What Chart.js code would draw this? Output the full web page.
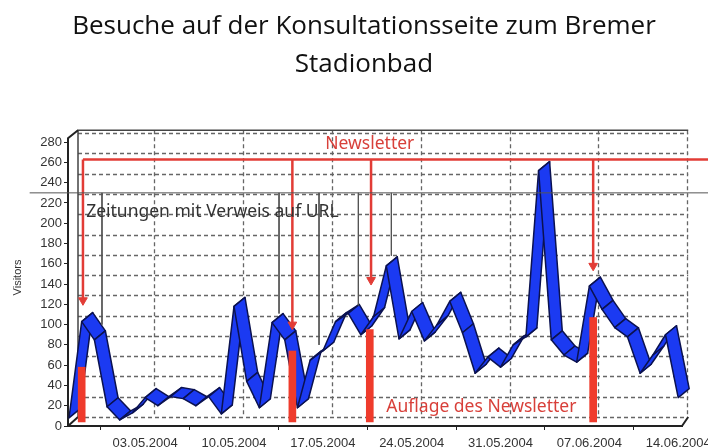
<!DOCTYPE html>
<html>
<head>
<meta charset="utf-8">
<script src="https://cdn.jsdelivr.net/npm/chart.js@4.4.1/dist/chart.umd.min.js"></script>
<style>
  html, body { margin: 0; padding: 0; background: #fff; }
  #wrap { position: absolute; left: 0; top: 0; width: 708px; height: 448px; }
  #title {
    position: absolute; left: 10px; top: 5px; width: 708px; text-align: center;
    font-family: "Open Sans", sans-serif; font-size: 26px; line-height: 38px; color: #111;
  }
</style>
</head>
<body>
<div id="wrap"><canvas id="chart"></canvas></div>
<div id="title">Besuche auf der Konsultationsseite zum Bremer<br>Stadionbad</div>
<script>
// daily visitors, 27.04.2004 .. 14.06.2004 (one value per day)
const visitors = [8, 103, 85, 19, 6, 13, 28, 20, 29, 27,
                  20, 29, 12, 118, 44, 18, 102, 85, 18, 65,
                  74, 103, 111, 90, 108, 158, 86, 113, 84, 100,
                  123, 92, 52, 68, 58, 80, 88, 252, 85, 70,
                  63, 138, 115, 97, 88, 52, 70, 90, 28];

const tickDays = [6, 13, 20, 27, 34, 41, 48];
const tickLabels = ["03.05.2004", "10.05.2004", "17.05.2004", "24.05.2004",
                    "31.05.2004", "07.06.2004", "14.06.2004"];
const yTicks = [0, 20, 40, 60, 80, 100, 120, 140, 160, 180, 200, 220, 240, 260, 280];

// newsletter: red arrows from a red line at 263
const newsDay = [1.1, 17.6, 23.8, 41.3];
const newsTip = [124, 100, 144, 158];
const newsLevel = 263;
const newsSpan = [1.1, 50.6];

// Auflage des Newsletter: red bars
const issueDay = [1.0, 17.6, 23.7, 41.3];
const issueTop = [58, 74, 95, 107];
const issueBase = 4;

// Zeitungen mit Verweis auf URL: thin black lines
const urlDay = [2.6, 16.55, 19.7, 22.8, 25.4];
const urlEnd = [100, 111, 80, 119, 168];
const urlLevel = 230;
const urlSpan = [-3.1, 50.6];

const notes = [
  { text: "Newsletter", day: 23.7, val: 278, color: "#d8403a", align: "center" },
  { text: "Zeitungen mit Verweis auf URL", day: 1.35, val: 211, color: "#333", align: "left" },
  { text: "Auflage des Newsletter", day: 25.0, val: 19, color: "#d8403a", align: "left" }
];

const RED = "#e23c36";
const DX = 11, DY = -9;

const backWall = {
  id: "backWall",
  beforeDatasetsDraw(chart) {
    const { ctx, scales: { x, y } } = chart;
    const left = x.getPixelForValue(0) + 9;
    const right = x.getPixelForValue(48) + 10;
    const top = y.getPixelForValue(280) - 12;
    const floor = y.getPixelForValue(0) - 9;
    ctx.save();
    ctx.strokeStyle = "#666";
    ctx.lineWidth = 1.3;
    ctx.setLineDash([4, 3]);
    yTicks.forEach(v => {
      const py = Math.round(y.getPixelForValue(v) - 9) + 0.5;
      ctx.beginPath(); ctx.moveTo(left, py); ctx.lineTo(right, py); ctx.stroke();
    });
    tickDays.forEach(d => {
      const px = Math.round(x.getPixelForValue(d) + 9) + 0.5;
      ctx.beginPath(); ctx.moveTo(px, top); ctx.lineTo(px, floor); ctx.stroke();
    });
    ctx.setLineDash([]);
    ctx.strokeStyle = "#444";
    ctx.lineWidth = 1.5;
    ctx.beginPath();
    ctx.moveTo(left, floor); ctx.lineTo(left, top); ctx.lineTo(right, top);
    ctx.stroke();
    // front axis with 3D corners
    const fl = x.getPixelForValue(0) - 1, fb = y.getPixelForValue(0);
    const ft = y.getPixelForValue(280) - 4;
    ctx.strokeStyle = "#222";
    ctx.lineWidth = 2;
    ctx.beginPath();
    ctx.moveTo(fl, fb); ctx.lineTo(fl, ft); ctx.lineTo(left, top);
    ctx.moveTo(fl, fb); ctx.lineTo(left, floor);
    const fr = x.getPixelForValue(48.3);
    ctx.moveTo(fr, fb); ctx.lineTo(right, floor);
    ctx.stroke();
    ctx.restore();

    // ribbon of the visitors series
    const pts = chart.getDatasetMeta(0).data;
    ctx.save();
    ctx.fillStyle = "#1b3af2";
    ctx.strokeStyle = "#0b1250";
    ctx.lineWidth = 1.5;
    ctx.lineJoin = "round";
    for (let i = 0; i < pts.length - 1; i++) {
      const a = pts[i], b = pts[i + 1];
      ctx.beginPath();
      ctx.moveTo(a.x, a.y);
      ctx.lineTo(b.x, b.y);
      ctx.lineTo(b.x + DX, b.y + DY);
      ctx.lineTo(a.x + DX, a.y + DY);
      ctx.closePath();
      ctx.fill();
      ctx.stroke();
    }
    ctx.restore();
  },
  afterDatasetsDraw(chart) {
    const { ctx, scales: { x, y } } = chart;
    ctx.save();
    ctx.font = '17.5px "Noto Sans", sans-serif';
    ctx.textBaseline = "middle";
    notes.forEach(n => {
      ctx.fillStyle = n.color;
      ctx.textAlign = n.align;
      ctx.fillText(n.text, x.getPixelForValue(n.day), y.getPixelForValue(n.val));
    });
    ctx.restore();
  }
};

const datasets = [];
datasets.push({
  type: "line", label: "Visitors",
  data: visitors.map((v, i) => ({ x: i, y: v })),
  showLine: false, pointRadius: 0, borderWidth: 0
});
datasets.push({
  type: "bar", label: "Auflage",
  data: issueDay.map((d, i) => ({ x: d, y: [issueBase, issueTop[i]] })),
  backgroundColor: "#ef3b2c", barThickness: 7, borderWidth: 0
});
datasets.push({
  type: "line", label: "URL",
  data: [{ x: urlSpan[0], y: urlLevel }, { x: urlSpan[1], y: urlLevel }],
  borderColor: "#555", borderWidth: 1, pointRadius: 0, clip: false
});
urlDay.forEach((d, i) => datasets.push({
  type: "line",
  data: [{ x: d, y: urlLevel }, { x: d, y: urlEnd[i] }],
  borderColor: "#555", borderWidth: 1, pointRadius: 0, clip: false
}));
datasets.push({
  type: "line", label: "Newsletter",
  data: [{ x: newsSpan[0], y: newsLevel }, { x: newsSpan[1], y: newsLevel }],
  borderColor: RED, borderWidth: 2.5, pointRadius: 0, clip: false
});
newsDay.forEach((d, i) => datasets.push({
  type: "line",
  data: [{ x: d, y: newsLevel }, { x: d, y: newsTip[i] }],
  borderColor: RED, borderWidth: 2.5, clip: false,
  pointRadius: [0, 5], pointStyle: "triangle", rotation: 180,
  pointBackgroundColor: RED, pointBorderColor: RED, pointBorderWidth: 1
}));

new Chart(document.getElementById("chart"), {
  type: "line",
  data: { datasets },
  options: {
    responsive: true,
    maintainAspectRatio: false,
    animation: false,
    layout: { padding: { left: 0, right: 26, top: 129, bottom: 0 } },
    plugins: { legend: { display: false }, tooltip: { enabled: false }, title: { display: false } },
    scales: {
      x: {
        type: "linear", min: 0, max: 48.3, offset: false,
        afterBuildTicks: s => { s.ticks = tickDays.map(v => ({ value: v })); },
        afterFit: s => { s.height = 22; s.paddingRight = 0; s.paddingLeft = 0; },
        ticks: {
          autoSkip: false, maxRotation: 0, padding: 6, color: "#333",
          font: { family: "Liberation Sans", size: 13 },
          callback: v => tickLabels[tickDays.indexOf(v)]
        },
        grid: { drawOnChartArea: false, drawTicks: true, tickLength: 4, color: "#222" },
        border: { display: true, color: "#222", width: 2 }
      },
      y: {
        min: 0, max: 293,
        afterBuildTicks: s => { s.ticks = yTicks.map(v => ({ value: v })); },
        afterFit: s => { s.width = 69; },
        ticks: { padding: 2, color: "#333", font: { family: "Liberation Sans", size: 13 } },
        grid: { drawOnChartArea: false, drawTicks: true, tickLength: 5, color: "#222" },
        border: { display: false },
        title: {
          display: true, text: "Visitors", color: "#333",
          font: { family: "Liberation Sans", size: 11 }, padding: { top: 11, bottom: 0 }
        }
      }
    }
  },
  plugins: [backWall]
});
</script>
</body>
</html>
